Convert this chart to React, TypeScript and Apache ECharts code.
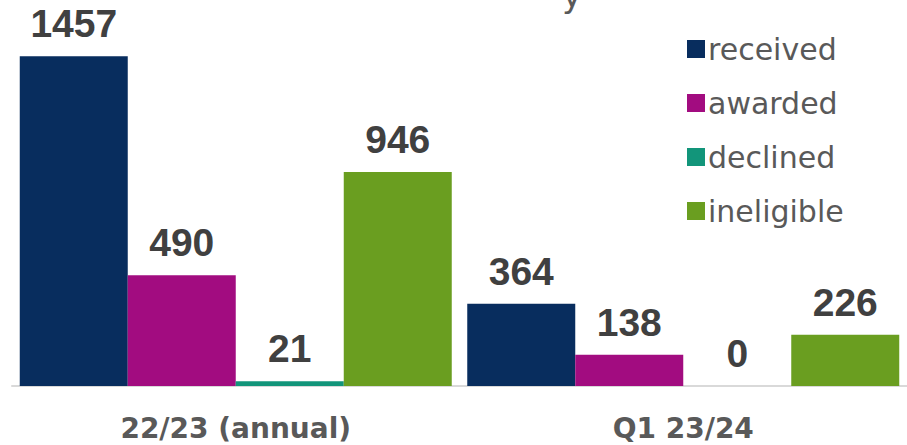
import React, { useEffect, useRef } from "react";
import * as echarts from "echarts";

const categories = ["22/23 (annual)", "Q1 23/24"];
const seriesNames = ["received", "awarded", "declined", "ineligible"];
const received = [1457, 364];
const awarded = [490, 138];
const declined = [21, 0];
const ineligible = [946, 226];
const colors = ["#082d5e", "#a20c80", "#12957a", "#6a9e20"];

const FONT = "'DejaVu Sans', sans-serif";
const LABEL_FONT = "'Liberation Sans', Arial, sans-serif";

export default function App() {
  const ref = useRef<HTMLDivElement>(null);
  useEffect(() => {
    if (!ref.current) return;
    const chart = echarts.init(ref.current, null, { renderer: "svg" });
    const values = [received, awarded, declined, ineligible];
    chart.setOption({
      animation: false,
      textStyle: { fontFamily: FONT },
      grid: { left: 12, right: 0, top: 24, bottom: 59, containLabel: false },
      legend: {
        orient: "vertical",
        left: 682,
        top: 29,
        itemWidth: 18,
        itemHeight: 18,
        itemGap: 24,
        icon: "rect",
        textStyle: { fontSize: 30, color: "#595959", fontFamily: FONT, padding: [0, 0, 0, -2] },
        data: seriesNames,
      },
      graphic: [
        {
          type: "text",
          left: 562,
          top: -22,
          style: { text: "y", fontSize: 34, fill: "#595959", fontFamily: FONT },
        },
      ],
      xAxis: {
        type: "category",
        data: categories,
        axisLine: { lineStyle: { color: "#d9d9d9", width: 2 } },
        axisTick: { show: false },
        axisLabel: {
          fontSize: 28,
          fontWeight: "bold",
          color: "#595959",
          margin: 28,
          fontFamily: FONT,
        },
      },
      yAxis: {
        type: "value",
        min: 0,
        max: 1600,
        show: false,
        splitLine: { show: false },
      },
      series: seriesNames.map((name, i) => ({
        name,
        type: "bar",
        data: values[i],
        barWidth: 108,
        barGap: "0%",
        itemStyle: { color: colors[i] },
        label: {
          show: true,
          position: "top",
          distance: 13,
          fontSize: 39,
          fontWeight: "bold",
          color: "#404040",
          fontFamily: LABEL_FONT,
        },
      })),
    });
    return () => chart.dispose();
  }, []);
  return (
    <div
      ref={ref}
      style={{ position: "fixed", left: 0, top: 0, width: 907, height: 445, background: "#fff" }}
    />
  );
}
